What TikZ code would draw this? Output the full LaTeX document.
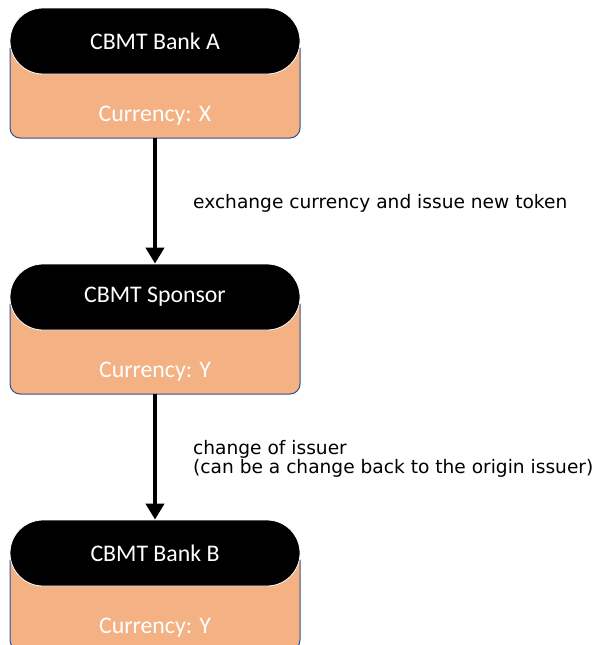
\documentclass[tikz,border=0pt]{standalone}
\usepackage{fontspec}
\setmainfont{Carlito}
\newfontfamily\dejavu{DejaVu Sans}
\usetikzlibrary{arrows.meta}
\definecolor{boxorange}{RGB}{244,177,131}
\definecolor{boxblue}{RGB}{47,82,143}
\begin{document}
\begin{tikzpicture}[x=1pt,y=1pt,
  head/.style={fill=black, draw=white, line width=0.8pt, rounded corners=33pt,
    minimum width=290pt, minimum height=66pt, inner sep=0pt, text=white,
    font=\fontsize{23.8}{28}\selectfont},
  body/.style={minimum width=290pt, minimum height=90pt, inner sep=0pt, outer sep=0pt},
  bodyfill/.style={fill=boxorange, draw=boxblue, line width=1pt},
  curr/.style={text=white, inner sep=0pt, font=\fontsize{23.8}{28}\selectfont},
  flow/.style={line width=4.5pt, -{Triangle[width=18pt,length=16pt]}},
  lbl/.style={font=\dejavu\fontsize{18.6}{18.7}\selectfont, text=black, align=left, inner sep=0pt}
]
\useasboundingbox (0,0) rectangle (594,-645);
\clip (0,0) rectangle (594,-645);

\foreach \n/\dy/\title/\cur in {A/0/CBMT Bank A/Currency: X, S/256/CBMT Sponsor/Currency: Y, B/512/CBMT Bank B/Currency: Y}{
  \node[body] (\n body) at (155,-93-\dy) {};
  \path[bodyfill] (\n body.north west) -- ([yshift=10pt]\n body.south west)
     arc[start angle=180, end angle=270, radius=10pt]
     -- ([xshift=-10pt]\n body.south east)
     arc[start angle=270, end angle=360, radius=10pt]
     -- (\n body.north east) -- cycle;
  \node[head] (\n) at (155,-41-\dy) {\title};
  \node[curr] (\n cur) at (155,-116-\dy) {\cur};
}

\draw[flow] (Abody.south) -- (S.north);
\draw[flow] (Sbody.south) -- (B.north);

\node[lbl, anchor=base west] (l1) at (193,-208) {exchange currency and issue new token};
\node[lbl, anchor=west] (l2) at (193,-459) {change of issuer\\(can be a change back to the origin issuer)};
\end{tikzpicture}
\end{document}
